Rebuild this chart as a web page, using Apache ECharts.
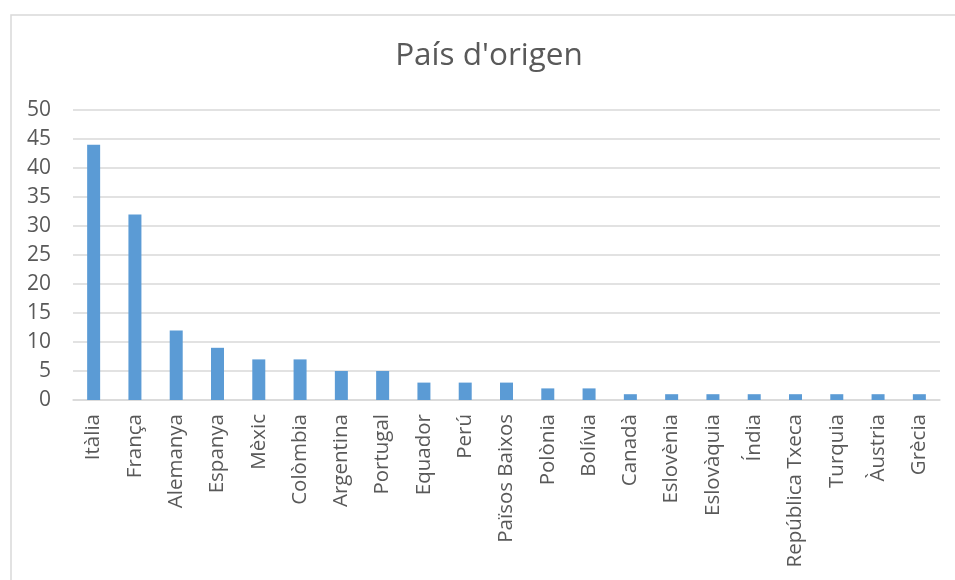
<!DOCTYPE html>
<html>
<head>
<meta charset="utf-8">
<script src="https://cdn.jsdelivr.net/npm/echarts@6/dist/echarts.min.js"></script>
<style>
html,body{margin:0;padding:0;background:#fff;}
#chart{width:955px;height:580px;}
</style>
</head>
<body>
<div id="chart"></div>
<script>
const categories = ["Itàlia","França","Alemanya","Espanya","Mèxic","Colòmbia","Argentina","Portugal","Equador","Perú","Països Baixos","Polònia","Bolívia","Canadà","Eslovènia","Eslovàquia","Índia","República Txeca","Turquia","Àustria","Grècia"];
const values = [44,32,12,9,7,7,5,5,3,3,3,2,2,1,1,1,1,1,1,1,1];
const yTicks = {min:0, max:50, interval:5};
const titleText = "País d'origen";

const chart = echarts.init(document.getElementById('chart'), null, {renderer:'canvas'});
const font = "'Open Sans', sans-serif";
chart.setOption({
  animation:false,
  backgroundColor:'#fff',
  graphic:[{
    type:'rect', left:8.5, top:12.5,
    shape:{x:0,y:0,width:960,height:600},
    style:{fill:'none', stroke:'#d9d9d9', lineWidth:1.5},
    silent:true, z:-1
  },{
    type:'text', x:489, y:40,
    style:{text:titleText, align:'center', verticalAlign:'top', fontFamily:font, fontSize:31.5, fill:'#595959'},
    silent:true
  }],
  grid:{left:73, right:15, top:110, bottom:180, containLabel:false},
  xAxis:{
    type:'category', data:categories,
    axisLine:{lineStyle:{color:'#d9d9d9', width:1.5}},
    axisTick:{show:false},
    axisLabel:{rotate:90, interval:0, margin:14, fontFamily:font, fontSize:20.5, color:'#595959'}
  },
  yAxis:{
    type:'value', min:yTicks.min, max:yTicks.max, interval:yTicks.interval,
    axisLine:{show:false}, axisTick:{show:false},
    splitLine:{lineStyle:{color:'#d9d9d9', width:1.5}},
    axisLabel:{margin:22, fontFamily:font, fontSize:21, color:'#595959'}
  },
  series:[{
    type:'bar', data:values, barWidth:13,
    itemStyle:{color:'#5b9bd5'}
  }]
});
</script>
</body>
</html>
